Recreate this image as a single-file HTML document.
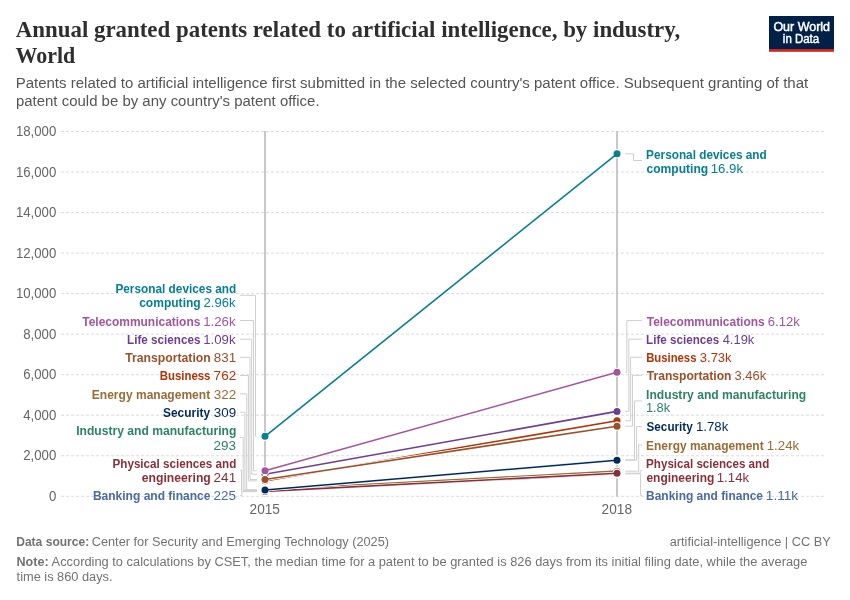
<!DOCTYPE html>
<html><head><meta charset="utf-8"><title>Annual granted patents related to artificial intelligence, by industry, World</title>
<style>
html,body{margin:0;padding:0;background:#fff;}
body{width:850px;height:600px;overflow:hidden;}
svg{display:block;will-change:transform;}
text{font-family:"Liberation Sans",sans-serif;}
.ttl{font-family:"Liberation Serif",serif;font-weight:bold;font-size:24px;fill:#2e2e2e;}
.sub{font-size:15.4px;fill:#555;}
.tick{font-size:13.8px;fill:#666;}
.lab{font-size:13.1px;}
.b{font-weight:bold;}
.foot{font-size:12.5px;fill:#727272;}
.fb{font-weight:bold;fill:#737373;}
.logo{font-size:12.4px;fill:#fff;}
</style></head><body>
<svg width="850" height="600" viewBox="0 0 850 600">
<rect width="850" height="600" fill="#fff"/>
<text x="15.78" y="36.80" textLength="664.39" lengthAdjust="spacingAndGlyphs" class="ttl">Annual granted patents related to artificial intelligence, by industry,</text>
<text x="15.50" y="62.80" textLength="59.65" lengthAdjust="spacingAndGlyphs" class="ttl">World</text>
<text x="15.67" y="88.10" textLength="792.54" lengthAdjust="spacingAndGlyphs" class="sub">Patents related to artificial intelligence first submitted in the selected country&#39;s patent office. Subsequent granting of that</text>
<text x="15.94" y="105.80" textLength="303.63" lengthAdjust="spacingAndGlyphs" class="sub">patent could be by any country&#39;s patent office.</text>
<rect x="769" y="16" width="65" height="33" fill="#002147"/><rect x="769" y="49" width="65" height="2.8" fill="#ce261e"/>
<text x="773.41" y="30.80" textLength="56.59" lengthAdjust="spacingAndGlyphs" class="logo" stroke="#fff" stroke-width="0.45">Our World</text>
<text x="782.83" y="42.80" textLength="36.37" lengthAdjust="spacingAndGlyphs" class="logo" stroke="#fff" stroke-width="0.45">in Data</text>
<line x1="61" y1="131.50" x2="824" y2="131.50" stroke="#dcdcdc" stroke-width="1" stroke-dasharray="3,2"/>
<line x1="61" y1="172.03" x2="824" y2="172.03" stroke="#dcdcdc" stroke-width="1" stroke-dasharray="3,2"/>
<line x1="61" y1="212.57" x2="824" y2="212.57" stroke="#dcdcdc" stroke-width="1" stroke-dasharray="3,2"/>
<line x1="61" y1="253.10" x2="824" y2="253.10" stroke="#dcdcdc" stroke-width="1" stroke-dasharray="3,2"/>
<line x1="61" y1="293.63" x2="824" y2="293.63" stroke="#dcdcdc" stroke-width="1" stroke-dasharray="3,2"/>
<line x1="61" y1="334.17" x2="824" y2="334.17" stroke="#dcdcdc" stroke-width="1" stroke-dasharray="3,2"/>
<line x1="61" y1="374.70" x2="824" y2="374.70" stroke="#dcdcdc" stroke-width="1" stroke-dasharray="3,2"/>
<line x1="61" y1="415.23" x2="824" y2="415.23" stroke="#dcdcdc" stroke-width="1" stroke-dasharray="3,2"/>
<line x1="61" y1="455.77" x2="824" y2="455.77" stroke="#dcdcdc" stroke-width="1" stroke-dasharray="3,2"/>
<line x1="61" y1="496.30" x2="824" y2="496.30" stroke="#dcdcdc" stroke-width="1" stroke-dasharray="3,2"/>
<text x="15.91" y="136.00" textLength="40.31" lengthAdjust="spacingAndGlyphs" class="tick">18,000</text>
<text x="15.91" y="176.53" textLength="40.31" lengthAdjust="spacingAndGlyphs" class="tick">16,000</text>
<text x="15.91" y="217.07" textLength="40.31" lengthAdjust="spacingAndGlyphs" class="tick">14,000</text>
<text x="15.91" y="257.60" textLength="40.31" lengthAdjust="spacingAndGlyphs" class="tick">12,000</text>
<text x="15.91" y="298.13" textLength="40.31" lengthAdjust="spacingAndGlyphs" class="tick">10,000</text>
<text x="23.24" y="338.67" textLength="32.98" lengthAdjust="spacingAndGlyphs" class="tick">8,000</text>
<text x="23.24" y="379.20" textLength="32.98" lengthAdjust="spacingAndGlyphs" class="tick">6,000</text>
<text x="23.24" y="419.73" textLength="32.98" lengthAdjust="spacingAndGlyphs" class="tick">4,000</text>
<text x="23.24" y="460.27" textLength="32.98" lengthAdjust="spacingAndGlyphs" class="tick">2,000</text>
<text x="48.89" y="500.80" textLength="7.33" lengthAdjust="spacingAndGlyphs" class="tick">0</text>
<line x1="265" y1="131" x2="265" y2="496.8" stroke="#c8c8c8" stroke-width="2"/>
<line x1="617" y1="131" x2="617" y2="496.8" stroke="#c8c8c8" stroke-width="2"/>
<text x="249.61" y="513.80" textLength="30.36" lengthAdjust="spacingAndGlyphs" class="tick">2015</text>
<text x="601.61" y="513.80" textLength="30.38" lengthAdjust="spacingAndGlyphs" class="tick">2018</text>
<path d="M240.0,295.3 L255.5,295.3 L255.5,436.3 L256.8,436.3" fill="none" stroke="#cfcfcf" stroke-width="1"/>
<path d="M240.0,320.5 L253.5,320.5 L253.5,470.8 L256.8,470.8" fill="none" stroke="#cfcfcf" stroke-width="1"/>
<path d="M240.0,339.2 L251.7,339.2 L251.7,474.2 L256.8,474.2" fill="none" stroke="#cfcfcf" stroke-width="1"/>
<path d="M240.0,357.3 L250.0,357.3 L250.0,479.5 L256.8,479.5" fill="none" stroke="#cfcfcf" stroke-width="1"/>
<path d="M240.0,375.5 L248.4,375.5 L248.4,480.9 L256.8,480.9" fill="none" stroke="#cfcfcf" stroke-width="1"/>
<path d="M240.0,393.8 L246.7,393.8 L246.7,489.8 L256.8,489.8" fill="none" stroke="#cfcfcf" stroke-width="1"/>
<path d="M240.0,412.2 L244.9,412.2 L244.9,490.0 L256.8,490.0" fill="none" stroke="#cfcfcf" stroke-width="1"/>
<path d="M240.0,437.5 L243.2,437.5 L243.2,490.4 L256.8,490.4" fill="none" stroke="#cfcfcf" stroke-width="1"/>
<path d="M240.0,470.3 L241.5,470.3 L241.5,491.4 L256.8,491.4" fill="none" stroke="#cfcfcf" stroke-width="1"/>
<path d="M240.0,495.7 L241.8,495.7 L241.8,491.7 L256.8,491.7" fill="none" stroke="#cfcfcf" stroke-width="1"/>
<path d="M642.0,160.5 L633.5,160.5 L633.5,153.8 L625.2,153.8" fill="none" stroke="#cfcfcf" stroke-width="1"/>
<path d="M642.0,320.6 L626.8,320.6 L626.8,372.3 L625.2,372.3" fill="none" stroke="#cfcfcf" stroke-width="1"/>
<path d="M642.0,339.1 L628.8,339.1 L628.8,411.4 L625.2,411.4" fill="none" stroke="#cfcfcf" stroke-width="1"/>
<path d="M642.0,357.2 L630.6,357.2 L630.6,420.7 L625.2,420.7" fill="none" stroke="#cfcfcf" stroke-width="1"/>
<path d="M642.0,375.3 L632.5,375.3 L632.5,426.2 L625.2,426.2" fill="none" stroke="#cfcfcf" stroke-width="1"/>
<path d="M642.0,400.9 L634.5,400.9 L634.5,459.8 L625.2,459.8" fill="none" stroke="#cfcfcf" stroke-width="1"/>
<path d="M642.0,426.6 L636.6,426.6 L636.6,460.2 L625.2,460.2" fill="none" stroke="#cfcfcf" stroke-width="1"/>
<path d="M642.0,444.9 L638.7,444.9 L638.7,471.2 L625.2,471.2" fill="none" stroke="#cfcfcf" stroke-width="1"/>
<path d="M642.0,470.4 L640.2,470.4 L640.2,473.2 L625.2,473.2" fill="none" stroke="#cfcfcf" stroke-width="1"/>
<path d="M642.0,495.6 L640.6,495.6 L640.6,473.8 L625.2,473.8" fill="none" stroke="#cfcfcf" stroke-width="1"/>
<g>
<line x1="265" y1="491.74" x2="617" y2="473.80" stroke="#fff" stroke-width="3.0"/>
<circle cx="265" cy="491.74" r="4.6" fill="#fff"/>
<circle cx="617" cy="473.80" r="4.6" fill="#fff"/>
<line x1="265" y1="491.74" x2="617" y2="473.80" stroke="#4c6a9c" stroke-width="1.6"/>
<circle cx="265" cy="491.74" r="3.5" fill="#4c6a9c"/>
<circle cx="617" cy="473.80" r="3.5" fill="#4c6a9c"/>
</g>
<g>
<line x1="265" y1="480.86" x2="617" y2="420.71" stroke="#fff" stroke-width="3.0"/>
<circle cx="265" cy="480.86" r="4.6" fill="#fff"/>
<circle cx="617" cy="420.71" r="4.6" fill="#fff"/>
<line x1="265" y1="480.86" x2="617" y2="420.71" stroke="#b13507" stroke-width="1.6"/>
<circle cx="265" cy="480.86" r="3.5" fill="#b13507"/>
<circle cx="617" cy="420.71" r="3.5" fill="#b13507"/>
</g>
<g>
<line x1="265" y1="489.77" x2="617" y2="471.17" stroke="#fff" stroke-width="3.0"/>
<circle cx="265" cy="489.77" r="4.6" fill="#fff"/>
<circle cx="617" cy="471.17" r="4.6" fill="#fff"/>
<line x1="265" y1="489.77" x2="617" y2="471.17" stroke="#9a6b35" stroke-width="1.6"/>
<circle cx="265" cy="489.77" r="3.5" fill="#9a6b35"/>
<circle cx="617" cy="471.17" r="3.5" fill="#9a6b35"/>
</g>
<g>
<line x1="265" y1="490.36" x2="617" y2="459.82" stroke="#fff" stroke-width="3.0"/>
<circle cx="265" cy="490.36" r="4.6" fill="#fff"/>
<circle cx="617" cy="459.82" r="4.6" fill="#fff"/>
<line x1="265" y1="490.36" x2="617" y2="459.82" stroke="#2c8465" stroke-width="1.6"/>
<circle cx="265" cy="490.36" r="3.5" fill="#2c8465"/>
<circle cx="617" cy="459.82" r="3.5" fill="#2c8465"/>
</g>
<g>
<line x1="265" y1="474.21" x2="617" y2="411.38" stroke="#fff" stroke-width="3.0"/>
<circle cx="265" cy="474.21" r="4.6" fill="#fff"/>
<circle cx="617" cy="411.38" r="4.6" fill="#fff"/>
<line x1="265" y1="474.21" x2="617" y2="411.38" stroke="#6d3e91" stroke-width="1.6"/>
<circle cx="265" cy="474.21" r="3.5" fill="#6d3e91"/>
<circle cx="617" cy="411.38" r="3.5" fill="#6d3e91"/>
</g>
<g>
<line x1="265" y1="436.31" x2="617" y2="153.79" stroke="#fff" stroke-width="3.0"/>
<circle cx="265" cy="436.31" r="4.6" fill="#fff"/>
<circle cx="617" cy="153.79" r="4.6" fill="#fff"/>
<line x1="265" y1="436.31" x2="617" y2="153.79" stroke="#05808f" stroke-width="1.6"/>
<circle cx="265" cy="436.31" r="3.5" fill="#05808f"/>
<circle cx="617" cy="153.79" r="3.5" fill="#05808f"/>
</g>
<g>
<line x1="265" y1="491.42" x2="617" y2="473.20" stroke="#fff" stroke-width="3.0"/>
<circle cx="265" cy="491.42" r="4.6" fill="#fff"/>
<circle cx="617" cy="473.20" r="4.6" fill="#fff"/>
<line x1="265" y1="491.42" x2="617" y2="473.20" stroke="#883039" stroke-width="1.6"/>
<circle cx="265" cy="491.42" r="3.5" fill="#883039"/>
<circle cx="617" cy="473.20" r="3.5" fill="#883039"/>
</g>
<g>
<line x1="265" y1="490.04" x2="617" y2="460.23" stroke="#fff" stroke-width="3.0"/>
<circle cx="265" cy="490.04" r="4.6" fill="#fff"/>
<circle cx="617" cy="460.23" r="4.6" fill="#fff"/>
<line x1="265" y1="490.04" x2="617" y2="460.23" stroke="#00295b" stroke-width="1.6"/>
<circle cx="265" cy="490.04" r="3.5" fill="#00295b"/>
<circle cx="617" cy="460.23" r="3.5" fill="#00295b"/>
</g>
<g>
<line x1="265" y1="470.76" x2="617" y2="372.27" stroke="#fff" stroke-width="3.0"/>
<circle cx="265" cy="470.76" r="4.6" fill="#fff"/>
<circle cx="617" cy="372.27" r="4.6" fill="#fff"/>
<line x1="265" y1="470.76" x2="617" y2="372.27" stroke="#a2559c" stroke-width="1.6"/>
<circle cx="265" cy="470.76" r="3.5" fill="#a2559c"/>
<circle cx="617" cy="372.27" r="3.5" fill="#a2559c"/>
</g>
<g>
<line x1="265" y1="479.46" x2="617" y2="426.18" stroke="#fff" stroke-width="3.0"/>
<circle cx="265" cy="479.46" r="4.6" fill="#fff"/>
<circle cx="617" cy="426.18" r="4.6" fill="#fff"/>
<line x1="265" y1="479.46" x2="617" y2="426.18" stroke="#9a5129" stroke-width="1.6"/>
<circle cx="265" cy="479.46" r="3.5" fill="#9a5129"/>
<circle cx="617" cy="426.18" r="3.5" fill="#9a5129"/>
</g>
<text x="115.41" y="293.10" textLength="120.87" lengthAdjust="spacingAndGlyphs" class="lab" fill="#05808f" font-weight="bold">Personal devices and</text>
<text x="203.54" y="307.10" textLength="31.94" lengthAdjust="spacingAndGlyphs" class="lab" fill="#05808f">2.96k</text>
<text x="139.13" y="307.10" textLength="61.58" lengthAdjust="spacingAndGlyphs" class="lab" fill="#05808f" font-weight="bold">computing</text>
<text x="203.19" y="325.50" textLength="32.29" lengthAdjust="spacingAndGlyphs" class="lab" fill="#a2559c">1.26k</text>
<text x="82.27" y="325.50" textLength="118.12" lengthAdjust="spacingAndGlyphs" class="lab" fill="#a2559c" font-weight="bold">Telecommunications</text>
<text x="203.19" y="344.00" textLength="32.29" lengthAdjust="spacingAndGlyphs" class="lab" fill="#6d3e91">1.09k</text>
<text x="127.12" y="344.00" textLength="73.26" lengthAdjust="spacingAndGlyphs" class="lab" fill="#6d3e91" font-weight="bold">Life sciences</text>
<text x="213.72" y="362.00" textLength="22.44" lengthAdjust="spacingAndGlyphs" class="lab" fill="#9a5129">831</text>
<text x="125.16" y="362.00" textLength="85.59" lengthAdjust="spacingAndGlyphs" class="lab" fill="#9a5129" font-weight="bold">Transportation</text>
<text x="213.61" y="380.30" textLength="22.57" lengthAdjust="spacingAndGlyphs" class="lab" fill="#b13507">762</text>
<text x="159.74" y="380.30" textLength="50.73" lengthAdjust="spacingAndGlyphs" class="lab" fill="#b13507" font-weight="bold">Business</text>
<text x="213.79" y="398.50" textLength="22.39" lengthAdjust="spacingAndGlyphs" class="lab" fill="#9a6b35">322</text>
<text x="91.80" y="398.50" textLength="118.35" lengthAdjust="spacingAndGlyphs" class="lab" fill="#9a6b35" font-weight="bold">Energy management</text>
<text x="213.79" y="416.90" textLength="22.34" lengthAdjust="spacingAndGlyphs" class="lab" fill="#00295b">309</text>
<text x="163.06" y="416.90" textLength="47.01" lengthAdjust="spacingAndGlyphs" class="lab" fill="#00295b" font-weight="bold">Security</text>
<text x="76.19" y="435.30" textLength="160.12" lengthAdjust="spacingAndGlyphs" class="lab" fill="#2c8465" font-weight="bold">Industry and manufacturing</text>
<text x="213.62" y="449.70" textLength="22.47" lengthAdjust="spacingAndGlyphs" class="lab" fill="#2c8465">293</text>
<text x="112.52" y="468.20" textLength="123.75" lengthAdjust="spacingAndGlyphs" class="lab" fill="#883039" font-weight="bold">Physical sciences and</text>
<text x="213.62" y="481.90" textLength="22.54" lengthAdjust="spacingAndGlyphs" class="lab" fill="#883039">241</text>
<text x="141.82" y="481.90" textLength="68.99" lengthAdjust="spacingAndGlyphs" class="lab" fill="#883039" font-weight="bold">engineering</text>
<text x="213.62" y="500.20" textLength="22.44" lengthAdjust="spacingAndGlyphs" class="lab" fill="#4c6a9c">225</text>
<text x="92.90" y="500.20" textLength="117.51" lengthAdjust="spacingAndGlyphs" class="lab" fill="#4c6a9c" font-weight="bold">Banking and finance</text>
<text x="646.11" y="158.80" textLength="120.67" lengthAdjust="spacingAndGlyphs" class="lab" fill="#05808f" font-weight="bold">Personal devices and</text>
<text x="710.69" y="172.50" textLength="32.29" lengthAdjust="spacingAndGlyphs" class="lab" fill="#05808f">16.9k</text>
<text x="646.43" y="172.50" textLength="61.78" lengthAdjust="spacingAndGlyphs" class="lab" fill="#05808f" font-weight="bold">computing</text>
<text x="767.84" y="325.50" textLength="31.94" lengthAdjust="spacingAndGlyphs" class="lab" fill="#a2559c">6.12k</text>
<text x="646.77" y="325.50" textLength="117.92" lengthAdjust="spacingAndGlyphs" class="lab" fill="#a2559c" font-weight="bold">Telecommunications</text>
<text x="722.70" y="343.90" textLength="31.58" lengthAdjust="spacingAndGlyphs" class="lab" fill="#6d3e91">4.19k</text>
<text x="646.12" y="343.90" textLength="73.06" lengthAdjust="spacingAndGlyphs" class="lab" fill="#6d3e91" font-weight="bold">Life sciences</text>
<text x="699.81" y="361.90" textLength="31.78" lengthAdjust="spacingAndGlyphs" class="lab" fill="#b13507">3.73k</text>
<text x="646.14" y="361.90" textLength="50.32" lengthAdjust="spacingAndGlyphs" class="lab" fill="#b13507" font-weight="bold">Business</text>
<text x="734.51" y="380.10" textLength="31.78" lengthAdjust="spacingAndGlyphs" class="lab" fill="#9a5129">3.46k</text>
<text x="646.77" y="380.10" textLength="84.68" lengthAdjust="spacingAndGlyphs" class="lab" fill="#9a5129" font-weight="bold">Transportation</text>
<text x="646.09" y="398.60" textLength="160.12" lengthAdjust="spacingAndGlyphs" class="lab" fill="#2c8465" font-weight="bold">Industry and manufacturing</text>
<text x="645.92" y="412.40" textLength="24.26" lengthAdjust="spacingAndGlyphs" class="lab" fill="#2c8465">1.8k</text>
<text x="695.99" y="431.40" textLength="32.29" lengthAdjust="spacingAndGlyphs" class="lab" fill="#00295b">1.78k</text>
<text x="646.56" y="431.40" textLength="46.20" lengthAdjust="spacingAndGlyphs" class="lab" fill="#00295b" font-weight="bold">Security</text>
<text x="766.79" y="449.80" textLength="32.29" lengthAdjust="spacingAndGlyphs" class="lab" fill="#9a6b35">1.24k</text>
<text x="646.10" y="449.80" textLength="117.55" lengthAdjust="spacingAndGlyphs" class="lab" fill="#9a6b35" font-weight="bold">Energy management</text>
<text x="646.12" y="467.90" textLength="123.14" lengthAdjust="spacingAndGlyphs" class="lab" fill="#883039" font-weight="bold">Physical sciences and</text>
<text x="716.79" y="481.90" textLength="32.29" lengthAdjust="spacingAndGlyphs" class="lab" fill="#883039">1.14k</text>
<text x="646.43" y="481.90" textLength="67.87" lengthAdjust="spacingAndGlyphs" class="lab" fill="#883039" font-weight="bold">engineering</text>
<text x="765.89" y="500.20" textLength="32.29" lengthAdjust="spacingAndGlyphs" class="lab" fill="#4c6a9c">1.11k</text>
<text x="646.10" y="500.20" textLength="116.91" lengthAdjust="spacingAndGlyphs" class="lab" fill="#4c6a9c" font-weight="bold">Banking and finance</text>
<text x="16.19" y="545.60" textLength="73.07" lengthAdjust="spacingAndGlyphs" class="foot fb">Data source:</text>
<text x="91.76" y="545.60" textLength="297.23" lengthAdjust="spacingAndGlyphs" class="foot">Center for Security and Emerging Technology (2025)</text>
<text x="669.66" y="545.60" textLength="161.12" lengthAdjust="spacingAndGlyphs" class="foot">artificial-intelligence | CC BY</text>
<text x="16.46" y="566.00" textLength="32.15" lengthAdjust="spacingAndGlyphs" class="foot fb">Note:</text>
<text x="51.57" y="566.00" textLength="755.80" lengthAdjust="spacingAndGlyphs" class="foot">According to calculations by CSET, the median time for a patent to be granted is 826 days from its initial filing date, while the average</text>
<text x="16.61" y="580.90" textLength="95.96" lengthAdjust="spacingAndGlyphs" class="foot">time is 860 days.</text>
</svg>
</body></html>
